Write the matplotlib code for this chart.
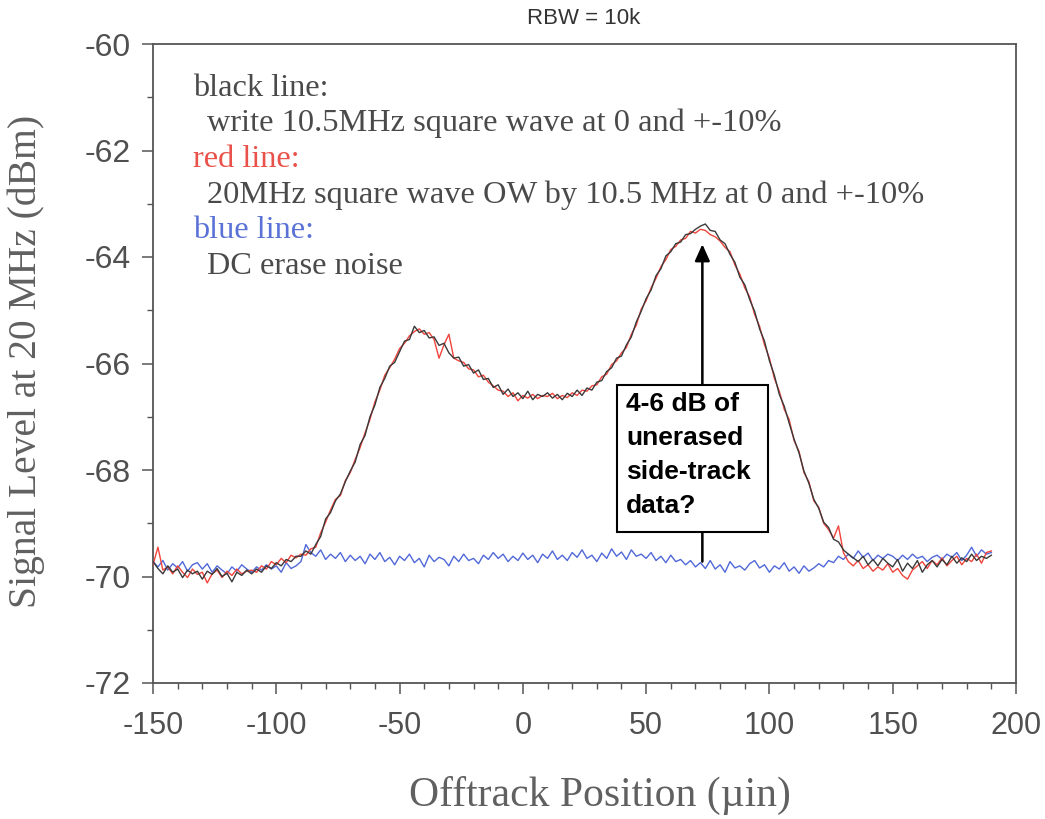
import numpy as np
import matplotlib
matplotlib.use("Agg")
import matplotlib.pyplot as plt
from matplotlib.patches import Rectangle

# ---------------- data ----------------
offtrack_um = list(range(-150, 191, 2))

black_line = [
    -69.72, -69.85, -69.95, -69.80, -69.92, -69.86, -70.02, -69.88, -69.95, -69.90,
    -70.05, -69.90, -69.96, -69.85, -70.00, -69.94, -70.10, -69.92, -69.98, -69.88,
    -69.95, -69.86, -69.92, -69.80, -69.85, -69.74, -69.80, -69.68, -69.72, -69.62,
    -69.62, -69.52, -69.58, -69.40, -69.25, -68.92, -68.80, -68.58, -68.45, -68.22,
    -68.02, -67.85, -67.52, -67.35, -67.00, -66.78, -66.45, -66.28, -66.05, -65.98,
    -65.78, -65.58, -65.55, -65.30, -65.42, -65.38, -65.52, -65.50, -65.66, -65.62,
    -65.80, -65.90, -65.88, -66.05, -66.02, -66.18, -66.12, -66.30, -66.28, -66.45,
    -66.40, -66.58, -66.48, -66.62, -66.55, -66.66, -66.52, -66.68, -66.58, -66.62,
    -66.55, -66.65, -66.58, -66.68, -66.56, -66.62, -66.50, -66.60, -66.46, -66.50,
    -66.35, -66.32, -66.15, -66.08, -65.90, -65.86, -65.65, -65.50, -65.22, -65.02,
    -64.78, -64.62, -64.35, -64.22, -63.98, -63.90, -63.75, -63.72, -63.58, -63.56,
    -63.48, -63.42, -63.38, -63.50, -63.52, -63.68, -63.75, -63.95, -64.10, -64.38,
    -64.52, -64.80, -65.02, -65.35, -65.58, -65.95, -66.22, -66.58, -66.80, -67.12,
    -67.42, -67.68, -68.02, -68.25, -68.55, -68.72, -68.98, -69.08, -69.30, -69.35,
    -69.50, -69.58, -69.65, -69.72, -69.62, -69.78, -69.68, -69.80, -69.66, -69.75,
    -69.82, -69.68, -69.90, -69.75, -69.85, -69.70, -69.92, -69.78, -69.70, -69.82,
    -69.68, -69.78, -69.62, -69.75, -69.65, -69.72, -69.58, -69.70, -69.62, -69.66,
    -69.60,
]

red_line = [
    -69.78, -69.45, -69.88, -69.82, -69.95, -69.80, -69.92, -70.02, -69.86, -69.96,
    -69.92, -70.12, -69.95, -69.88, -70.02, -69.90, -69.98, -69.86, -69.95, -69.90,
    -69.88, -69.92, -69.80, -69.86, -69.72, -69.78, -69.66, -69.74, -69.60, -69.65,
    -69.58, -69.60, -69.48, -69.45, -69.18, -68.98, -68.75, -68.55, -68.48, -68.20,
    -68.05, -67.80, -67.58, -67.30, -67.05, -66.72, -66.50, -66.22, -66.08, -65.92,
    -65.72, -65.62, -65.48, -65.40, -65.35, -65.45, -65.42, -65.55, -65.90, -65.65,
    -65.45, -65.90, -65.95, -65.98, -66.10, -66.12, -66.25, -66.22, -66.35, -66.42,
    -66.50, -66.52, -66.62, -66.55, -66.70, -66.60, -66.65, -66.58, -66.66, -66.60,
    -66.62, -66.56, -66.66, -66.60, -66.64, -66.55, -66.60, -66.50, -66.52, -66.42,
    -66.40, -66.25, -66.20, -66.02, -65.95, -65.80, -65.70, -65.45, -65.28, -64.98,
    -64.82, -64.58, -64.40, -64.18, -64.05, -63.86, -63.80, -63.68, -63.65, -63.52,
    -63.55, -63.48, -63.50, -63.58, -63.62, -63.70, -63.82, -63.90, -64.15, -64.32,
    -64.58, -64.75, -65.08, -65.30, -65.65, -65.90, -66.28, -66.52, -66.86, -67.05,
    -67.45, -67.65, -68.05, -68.22, -68.58, -68.70, -69.00, -69.12, -69.28, -69.05,
    -69.55, -69.72, -69.80, -69.70, -69.85, -69.78, -69.90, -69.82, -69.88, -69.76,
    -69.92, -69.85, -69.98, -70.05, -69.88, -69.80, -69.72, -69.85, -69.70, -69.78,
    -69.65, -69.80, -69.70, -69.62, -69.78, -69.66, -69.72, -69.58, -69.75, -69.55,
    -69.52,
]

blue_line = [
    -69.72, -69.82, -69.70, -69.88, -69.76, -69.84, -69.72, -69.90, -69.78, -69.74,
    -69.86, -69.76, -69.92, -69.80, -69.88, -69.95, -69.82, -69.90, -69.78, -69.86,
    -69.92, -69.82, -69.88, -69.78, -69.86, -69.80, -69.92, -69.74, -69.85, -69.80,
    -69.72, -69.40, -69.55, -69.62, -69.50, -69.68, -69.58, -69.66, -69.55, -69.72,
    -69.60, -69.70, -69.62, -69.76, -69.58, -69.68, -69.55, -69.72, -69.64, -69.78,
    -69.62, -69.70, -69.58, -69.74, -69.66, -69.82, -69.60, -69.72, -69.64, -69.68,
    -69.80, -69.62, -69.72, -69.58, -69.70, -69.66, -69.76, -69.60, -69.68, -69.55,
    -69.66, -69.58, -69.72, -69.62, -69.70, -69.56, -69.68, -69.60, -69.74, -69.58,
    -69.66, -69.52, -69.68, -69.60, -69.70, -69.55, -69.64, -69.50, -69.66, -69.60,
    -69.72, -69.56, -69.66, -69.48, -69.62, -69.54, -69.68, -69.50, -69.62, -69.58,
    -69.66, -69.55, -69.70, -69.62, -69.74, -69.60, -69.72, -69.68, -69.78, -69.70,
    -69.82, -69.74, -69.85, -69.70, -69.86, -69.78, -69.92, -69.72, -69.84, -69.80,
    -69.88, -69.76, -69.70, -69.84, -69.78, -69.92, -69.80, -69.86, -69.74, -69.90,
    -69.82, -69.94, -69.80, -69.90, -69.84, -69.76, -69.82, -69.70, -69.74, -69.62,
    -69.68, -69.58, -69.66, -69.52, -69.64, -69.56, -69.70, -69.60, -69.66, -69.58,
    -69.62, -69.70, -69.60, -69.68, -69.58, -69.66, -69.62, -69.72, -69.64, -69.60,
    -69.68, -69.58, -69.64, -69.55, -69.70, -69.60, -69.45, -69.62, -69.50, -69.58,
    -69.55,
]

x_ticks = [-150, -100, -50, 0, 50, 100, 150, 200]
y_ticks = [-72, -70, -68, -66, -64, -62, -60]

legend_lines = [
    ("black line:", "#4a4a4a", 0.0),
    ("write 10.5MHz square wave at 0 and +-10%", "#4a4a4a", 1.0),
    ("red line:", "#e8524a", 0.0),
    ("20MHz square wave OW by 10.5 MHz at 0 and +-10%", "#4a4a4a", 1.0),
    ("blue line:", "#5a72d6", 0.0),
    ("DC erase noise", "#4a4a4a", 1.0),
]
annotation_text = "4-6 dB of\nunerased\nside-track\ndata?"
arrow_x = 72.8
arrow_from = -69.72
arrow_to = -63.76

# ---------------- figure ----------------
W, H = 1045, 819
fig = plt.figure(figsize=(W / 100, H / 100), dpi=100)
ax = fig.add_axes([153 / W, 1 - 683 / H, (1016 - 153) / W, (683 - 44) / H])

spine_c = "#555555"
ax.plot(offtrack_um, blue_line, color="#5068d8", lw=1.0, zorder=2)
ax.plot(offtrack_um, red_line, color="#f0443c", lw=1.0, zorder=3)
ax.plot(offtrack_um, black_line, color="#3a3a3a", lw=1.0, zorder=4)

ax.set_xlim(-150, 200)
ax.set_ylim(-72, -60)
ax.set_xticks(x_ticks)
ax.set_xticks(list(range(-150, 201, 10)), minor=True)
ax.set_yticks(y_ticks)
ax.set_yticks(list(range(-71, -60, 2)), minor=True)
ax.set_xticklabels([str(t) for t in x_ticks])
ax.set_yticklabels([str(t) for t in y_ticks])

for s in ax.spines.values():
    s.set_color(spine_c)
    s.set_linewidth(1.3)

ax.tick_params(axis="both", which="major", direction="out", length=8, width=1.1,
               color=spine_c, labelcolor="#505050")
ax.tick_params(axis="both", which="minor", direction="out", length=4, width=1.0,
               color=spine_c)
ax.tick_params(axis="x", which="major", pad=12)
ax.tick_params(axis="y", which="major", pad=8)
for lab in ax.get_xticklabels():
    lab.set_fontfamily(["Liberation Sans", "DejaVu Sans"])
    lab.set_fontsize(22)
for lab in ax.get_yticklabels():
    lab.set_fontfamily(["Liberation Sans", "DejaVu Sans"])
    lab.set_fontsize(23)

serif = ["Liberation Serif", "DejaVu Serif"]
fig.text(600 / W, 1 - 795 / H, "Offtrack Position (\u00b5in)", ha="center", va="center",
         fontsize=30, family=serif, color="#606060")
fig.text(26 / W, 1 - 361 / H, "Signal Level at 20 MHz (dBm)", ha="center", va="center",
         rotation=90, fontsize=28.5, family=serif, color="#606060")

fig.text(584 / W, 1 - 18 / H, "RBW = 10k", ha="center", va="center",
         fontsize=16, family=["Liberation Sans", "DejaVu Sans"], color="#333333")

# legend-like text block
y0 = 88
for i, (txt, col, indent) in enumerate(legend_lines):
    fig.text((193 + 14 * indent) / W, 1 - (y0 + i * 35.6) / H, txt, ha="left", va="center",
             fontsize=23.3, family=serif, color=col)

# arrow (behind the box)
ax.annotate("", xy=(arrow_x, arrow_to), xytext=(arrow_x, arrow_from),
            arrowprops=dict(arrowstyle="-|>,head_width=0.45,head_length=1.0",
                            color="black", lw=1.8, shrinkA=0, shrinkB=0),
            zorder=5)

# annotation box
bx0, bx1 = (617 - 153) / 863, (768 - 153) / 863
by0, by1 = 1 - (532 - 44) / 639, 1 - (385 - 44) / 639
ax.add_patch(Rectangle((bx0, by0), bx1 - bx0, by1 - by0, transform=ax.transAxes,
                       facecolor="white", edgecolor="black", lw=1.5, zorder=6))
ax.text((626 - 153) / 863, 1 - (392 - 44) / 639, annotation_text, transform=ax.transAxes,
        ha="left", va="top", fontsize=19, fontweight="bold",
        family=["Liberation Sans", "DejaVu Sans"], color="black",
        linespacing=1.52, zorder=7)

fig.savefig("out.png", dpi=100, facecolor="white")
